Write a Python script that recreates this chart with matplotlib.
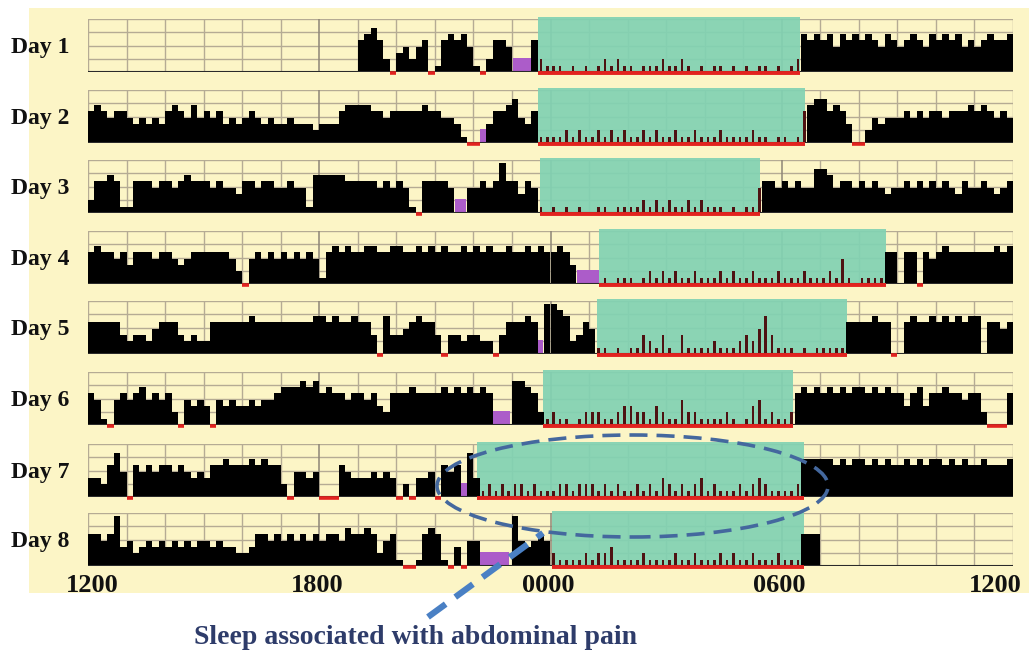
import numpy as np
import matplotlib
matplotlib.use("Agg")
import matplotlib.pyplot as plt
from matplotlib.patches import Rectangle, Ellipse
from matplotlib.lines import Line2D
from matplotlib.transforms import ScaledTranslation, blended_transform_factory

W, H, DPI = 1029, 657, 100

# ---------------- data ----------------
day_labels = ["Day 1", "Day 2", "Day 3", "Day 4", "Day 5", "Day 6", "Day 7", "Day 8"]
tick_hours = [0, 6, 12, 18, 24]          # hours after 12:00
tick_labels = ["1200", "1800", "0000", "0600", "1200"]

# activity per 10-min epoch from 12:00 to 12:00 (one group of six per hour)
# digit = activity level (0-9), 'r' = zero count, '.' = no data / event marker
activity_day1 = ("...... ...... ...... ...... ...... ...... ...... 56752r 34245r 156564 1r2554 ...521 "
                 "110101 012121 101112 112101 011010 101101 012656 564656 565465 456546 565645 456556")
activity_day2 = ("565455 434343 565464 545343 454343 343332 333566 665545 555565 54431r r.3556 743511 "
                 "112121 121212 112121 121121 112111 121101 101567 75653r r24344 454545 545556 565454")
activity_day3 = ("255651 155545 545655 545443 554554 454416 666655 555454 541r55 554..4 454585 535410 "
                 "101010 011011 112121 211212 111010 114554 545447 764554 545434 454545 454354 454345")
activity_day4 = ("565545 355545 543455 555542 r45454 545454 156565 566556 655656 565565 656556 556565 "
                 "5653.. .01011 101212 121121 112121 121112 111211 121410 111155 055r54 565555 555656")
activity_day5 = ("555553 233245 553232 255555 565555 555556 656556 553r63 345655 3r3323 322r35 5565.8 "
                 "876235 411010 113213 103111 121112 324631 110101 111155 55655r 056556 565656 605545")
activity_day6 = ("541r45 456454 52r434 3r4343 343445 666767 565545 545325 556555 565656 565... 776521 "
                 "211012 221123 322132 114221 111210 134121 125656 565656 656565 535635 565545 52rrr5")
activity_day7 = ("332574 r54545 545434 355655 565655 2r4434 rrr543 334343 r2r334 r545.7 312121 221211 "
                 "122122 212121 121213 212123 121112 123211 112666 665656 656565 565656 656565 565556")
activity_day8 = ("554583 423434 343434 434332 235545 454545 455465 565245 1rr156 51r3r4 4..... 843454 "
                 "211112 122311 112111 121121 112121 121112 111555 ...... ...... ...... ...... ......")
activity = [activity_day1, activity_day2, activity_day3, activity_day4,
            activity_day5, activity_day6, activity_day7, activity_day8]

sleep_onset = ["23:41", "23:41", "23:44", "01:16", "01:12", "23:48", "22:06", "00:03"]
sleep_offset = ["06:28", "06:36", "05:26", "08:42", "07:41", "06:17", "06:34", "06:34"]
marker_start = ["23:01", "22:10", "21:32", "00:41", "23:38", "22:31", "21:40", "22:10"]
marker_end = ["23:34", "22:25", "21:49", "01:15", "23:49", "22:57", "21:52", "22:56"]

annotation_text = "Sleep associated with abdominal pain"

# ---------------- style ----------------
BG_YELLOW = "#FCF5C6"
GRID = "#B5AB94"
GRID_DARK = "#8E8677"
GREEN = "#82D2B3"
PURPLE = "#AC5CC9"
RED = "#E2231F"
SLEEP_BAR = "#4E1212"
BLUE_ELL = "#44689E"
BLUE_LINE = "#4A80C4"
NAVY = "#2E3C6A"
SERIF = ["Liberation Serif", "DejaVu Serif"]


def clock_to_h(s):
    hh, mm = map(int, s.split(":"))
    return ((hh - 12) % 24) + mm / 60.0


def parse(s):
    chars = s.replace(" ", "")
    assert len(chars) == 144, len(chars)
    return chars


fig = plt.figure(figsize=(W / DPI, H / DPI), dpi=DPI, facecolor="white")

# pale yellow backdrop
fig.add_artist(Rectangle((29 / W, 1 - 593 / H), 1000 / W, 585 / H,
                         transform=fig.transFigure, facecolor=BG_YELLOW,
                         edgecolor="none", zorder=-10))

panel_left, panel_right = 88, 1013
baselines = [72, 143, 213, 284, 354, 425, 497, 566]
panel_h = 53
YMAX = 8.4
epoch = 1.0 / 6.0

axes = []
for d in range(8):
    base = baselines[d]
    ax = fig.add_axes([panel_left / W, (H - base) / H,
                       (panel_right - panel_left) / W, panel_h / H])
    ax.set_facecolor("none")
    ax.set_xlim(0, 24)
    ax.set_ylim(0, YMAX)
    for sp in ax.spines.values():
        sp.set_visible(False)
    ax.set_xticks([])
    ax.set_yticks([])

    # grid
    for hgt in [YMAX * 0.25, YMAX * 0.5, YMAX * 0.75, YMAX]:
        ax.axhline(hgt, color=GRID, lw=1.0, zorder=0.5)
    for hr in range(25):
        c = GRID_DARK if hr % 6 == 0 and hr not in (0, 24) else GRID
        ax.axvline(hr, color=c, lw=1.1 if c == GRID_DARK else 1.0, zorder=0.5)

    on = clock_to_h(sleep_onset[d])
    off = clock_to_h(sleep_offset[d])
    ax.add_patch(Rectangle((on, 0), off - on, YMAX * 1.04, facecolor=GREEN,
                           edgecolor="none", alpha=0.93, zorder=1, clip_on=False))

    ms, me = clock_to_h(marker_start[d]), clock_to_h(marker_end[d])
    ax.add_patch(Rectangle((ms, 0), me - ms, YMAX * 0.26, facecolor=PURPLE,
                           edgecolor="none", zorder=2))

    chars = parse(activity[d])
    wx, wh, sx, sh, reds = [], [], [], [], []
    for i, ch in enumerate(chars):
        x0 = i * epoch
        if ch == ".":
            continue
        if ch == "r":
            reds.append(x0)
            continue
        v = int(ch)
        if v == 0:
            continue
        mid = x0 + epoch / 2
        if on <= mid <= off:
            sx.append(mid)
            sh.append(v)
        else:
            wx.append(x0)
            wh.append(v)
    ax.bar(wx, wh, width=epoch, align="edge", color="black", linewidth=0, zorder=3)
    ax.bar(sx, sh, width=epoch * 0.4, align="center", color=SLEEP_BAR, linewidth=0, zorder=3)

    ax.axhline(0, color="#2A2A2A", lw=1.5, zorder=3.5)
    ax.plot([on, off], [-0.15, -0.15], color=RED, lw=2.8, solid_capstyle="butt",
            zorder=4, clip_on=False)
    for x0 in reds:
        ax.plot([x0, x0 + epoch], [-0.15, -0.15], color=RED, lw=2.6,
                solid_capstyle="butt", zorder=4, clip_on=False)

    fig.text(11 / W, 1 - (base - panel_h + 34) / H, day_labels[d], fontsize=17,
             fontweight="bold", family=SERIF, va="baseline", ha="left", color="#111111")
    axes.append(ax)

# x tick labels below last panel
ax = axes[-1]
trans = blended_transform_factory(ax.transData, ax.transAxes)
for k, (hr, lab) in enumerate(zip(tick_hours, tick_labels)):
    dx = 4 if k == 0 else (-18 if k == len(tick_hours) - 1 else -2)
    t = trans + ScaledTranslation(dx / DPI, -26 / DPI, fig.dpi_scale_trans)
    ax.text(hr, 0, lab, transform=t, ha="center", va="baseline", fontsize=19,
            fontweight="bold", family=SERIF, color="#111111", clip_on=False)

# dashed ellipse around Day 7 sleep
fig.add_artist(Ellipse((632.5 / W, 1 - 486 / H), 391 / W, 102 / H,
                       transform=fig.transFigure, fill=False, edgecolor=BLUE_ELL,
                       lw=2.6, linestyle=(0, (5, 2.5)), zorder=20))
# dashed pointer line
fig.add_artist(Line2D([428 / W, 543 / W], [1 - 617 / H, 1 - 533 / H],
                      transform=fig.transFigure, color=BLUE_LINE, lw=4.5,
                      linestyle=(0, (3.5, 1.9)), zorder=20))

fig.text(415.5 / W, 1 - 644 / H, annotation_text, ha="center", va="baseline",
         fontsize=20, fontweight="bold", family=SERIF, color=NAVY)

fig.savefig("out.png", dpi=DPI, facecolor="white")
